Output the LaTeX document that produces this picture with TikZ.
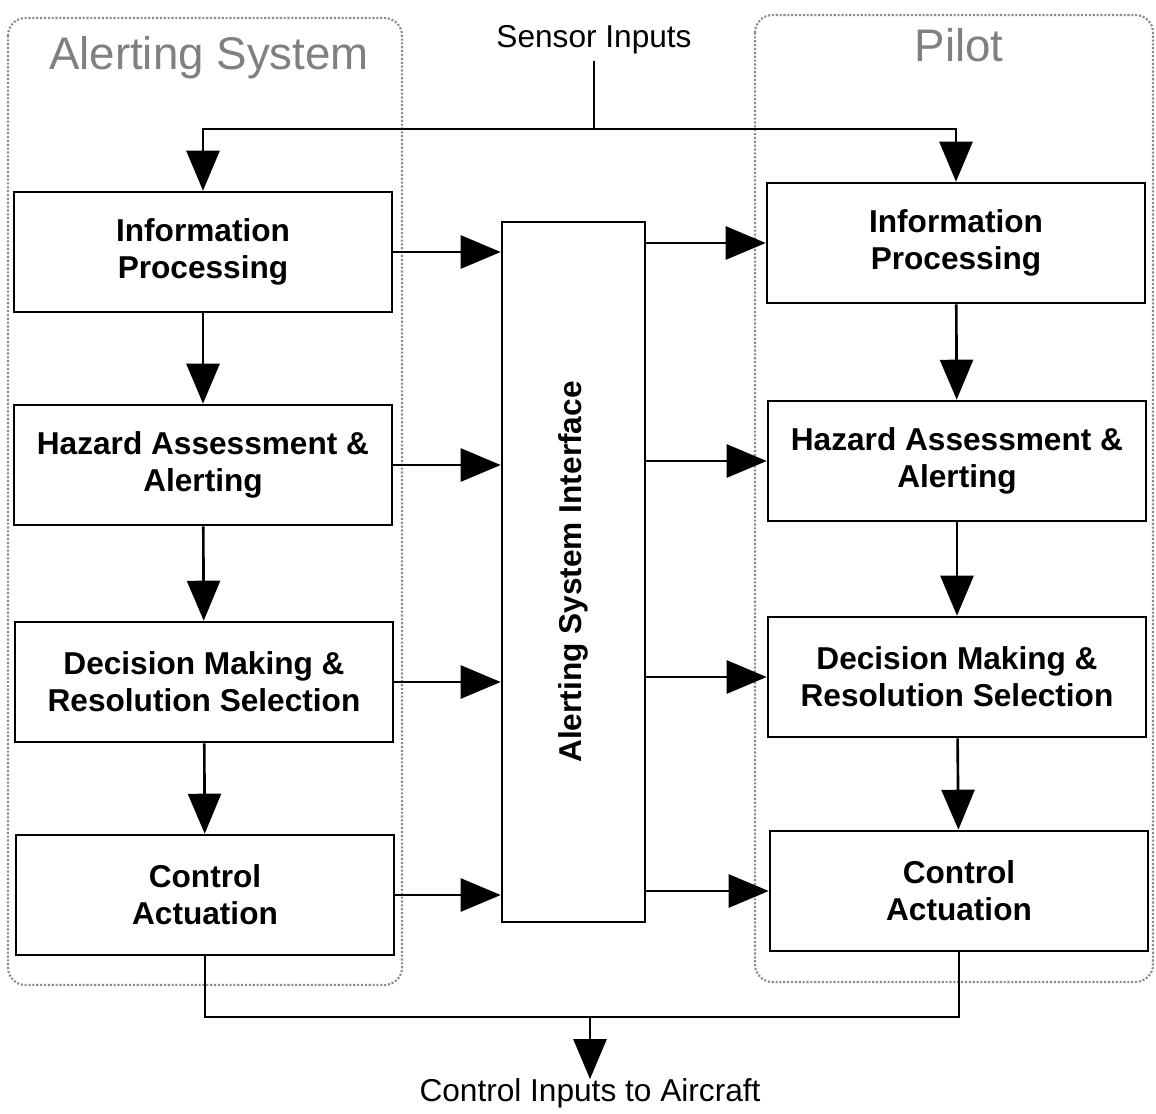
\documentclass[tikz,border=0pt]{standalone}
\usepackage{fontspec}
\setmainfont{Liberation Sans}
\usetikzlibrary{arrows.meta}

\tikzset{
        block/.style={draw,line width=1.5pt,minimum width=7.56cm,minimum height=2.4cm,align=center,font=\fontsize{18}{21}\selectfont\bfseries},
        arr/.style={line width=1.5pt,-{Triangle[length=0.8cm,width=0.66cm]}},
        wire/.style={line width=1.5pt},
        group/.style={draw=black!45,densely dotted,line width=1.2pt,rounded corners=0.35cm},
        grouptitle/.style={text=black!50,font=\fontsize{26}{30}\selectfont},
        plain/.style={font=\fontsize{18}{21}\selectfont}
}

\begin{document}
\begin{tikzpicture}[x=0.02cm,y=-0.02cm]
                \useasboundingbox (0,0) rectangle (1156,1113);
                \draw[group] (8,18) rectangle (402,985);
                \draw[group] (755,15) rectangle (1153,982);
                \node[grouptitle] (asys) at (209,58) {Alerting System};
                \node[grouptitle] (pilot) at (959,45) {Pilot};
                \node[plain] (sensor) at (594,40) {Sensor Inputs};
                \node[plain] (ctlin) at (590,1093) {Control Inputs to Aircraft};
                \node[block] (lInfo) at (203,252) {Information\\Processing};
                \node[block] (lHaz) at (203,465) {Hazard Assessment \&\\Alerting};
                \node[block] (lDec) at (204,682) {Decision Making \&\\Resolution Selection};
                \node[block] (lCtl) at (205,895) {Control\\Actuation};
                \node[block] (rInfo) at (956,243) {Information\\Processing};
                \node[block] (rHaz) at (957,461) {Hazard Assessment \&\\Alerting};
                \node[block] (rDec) at (957,677) {Decision Making \&\\Resolution Selection};
                \node[block] (rCtl) at (959,891) {Control\\Actuation};
                \node[draw,line width=1.5pt,minimum width=2.86cm,minimum height=14cm] (iface) at (573.5,572) {};
                \node[rotate=90,font=\fontsize{18}{21}\selectfont\bfseries] (ifacetext) at (iface.center) {Alerting System Interface};
                \coordinate (split) at (sensor.south |- 0,129);
                \draw[wire] (sensor.south) -- (split);
                \draw[arr] (split) -| (lInfo.north);
                \draw[arr] (split) -| (rInfo.north);
                \draw[arr] (lInfo) -- (lHaz);
                \draw[arr] (lHaz) -- (lDec);
                \draw[arr] (lDec) -- (lCtl);
                \draw[arr] (rInfo) -- (rHaz);
                \draw[arr] (rHaz) -- (rDec);
                \draw[arr] (rDec) -- (rCtl);
                \foreach \b in {Info,Haz,Dec,Ctl} {
                        \draw[arr] (l\b.east) -- (l\b.east -| iface.west);
                        \draw[arr] (r\b.west -| iface.east) -- (r\b.west);
                }
                \coordinate (join) at (ctlin.north |- 0,1017);
                \draw[wire] (lCtl.south) |- (join) -| (rCtl.south);
                \draw[arr] (join) -- ([yshift=-4pt]ctlin.north);
            \end{tikzpicture}
\end{document}
